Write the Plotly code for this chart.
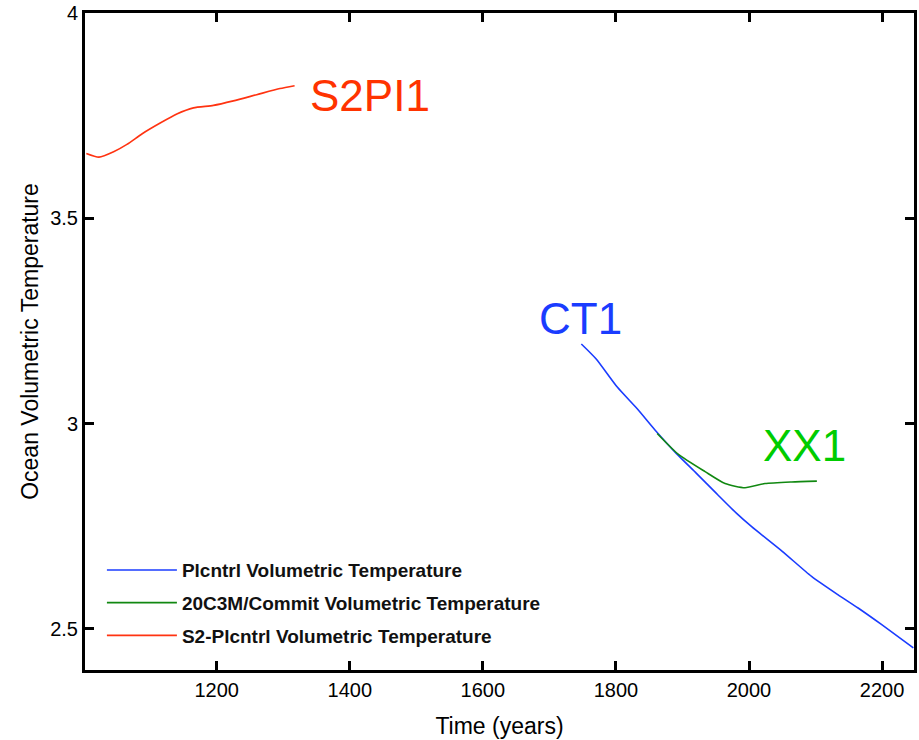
import plotly.graph_objects as go

# Pictrl (blue)
pi_years = [1748, 1770, 1802, 1832, 1859, 1891, 1921, 1951, 1981, 2004, 2050, 2094, 2134, 2164, 2199, 2247]
pi_temp = [3.194, 3.158, 3.089, 3.036, 2.984, 2.927, 2.879, 2.830, 2.782, 2.749, 2.689, 2.628, 2.583, 2.551, 2.511, 2.454]

# 20C3M/Commit (green)
cm_years = [1862, 1894, 1934, 1964, 1994, 2024, 2064, 2102]
cm_temp = [2.976, 2.925, 2.883, 2.854, 2.844, 2.854, 2.858, 2.860]

# S2-Pictrl (red)
s2_years = [1004, 1023, 1045, 1065, 1088, 1115, 1140, 1165, 1195, 1225, 1260, 1295, 1317]
s2_temp = [3.658, 3.649, 3.662, 3.680, 3.706, 3.732, 3.754, 3.769, 3.775, 3.786, 3.801, 3.816, 3.823]

series_names = ["Plcntrl Volumetric Temperature",
                "20C3M/Commit Volumetric Temperature",
                "S2-Plcntrl Volumetric Temperature"]

label_texts = ["S2PI1", "CT1", "XX1"]
label_x = [1430, 1747, 2083]
label_y = [3.80, 3.255, 2.947]

x_ticks = [1200, 1400, 1600, 1800, 2000, 2200]
y_ticks = [2.5, 3, 3.5, 4]

BLUE = "#1a3cff"
GREEN = "#118811"
RED = "#ff3311"
label_colors = ["#ff3300", "#1a3cff", "#00cc00"]

line_common = dict(width=1.6, shape="spline", smoothing=0.6)

fig = go.Figure()
fig.add_trace(go.Scatter(x=pi_years, y=pi_temp, mode="lines", name=series_names[0],
                         line=dict(color=BLUE, **line_common), legendgroup="a"))
fig.add_trace(go.Scatter(x=cm_years, y=cm_temp, mode="lines", name=series_names[1],
                         line=dict(color=GREEN, **line_common), legendgroup="b"))
fig.add_trace(go.Scatter(x=s2_years, y=s2_temp, mode="lines", name=series_names[2],
                         line=dict(color=RED, **line_common), legendgroup="c"))

for t, x, y, c in zip(label_texts, label_x, label_y, label_colors):
    fig.add_annotation(x=x, y=y, text=t, showarrow=False,
                       font=dict(family="Liberation Sans, Arial", size=44, color=c),
                       xanchor="center", yanchor="middle")

axis_common = dict(
    showline=True, linecolor="black", linewidth=3, mirror="ticks",
    ticks="inside", ticklen=9, tickwidth=3, tickcolor="black",
    showgrid=False, zeroline=False,
    tickfont=dict(family="Liberation Sans, Arial", size=20, color="black"),
)

fig.update_layout(
    width=919, height=740,
    margin=dict(l=85, r=2, t=13, b=70),
    paper_bgcolor="white", plot_bgcolor="white",
    xaxis=dict(range=[1002, 2248], tickvals=x_ticks,
               title=dict(text="Time (years)", standoff=18,
                          font=dict(family="Liberation Sans, Arial", size=23, color="black")),
               **axis_common),
    yaxis=dict(range=[2.4, 4.0], tickvals=y_ticks,
               title=dict(text="Ocean Volumetric Temperature", standoff=6,
                          font=dict(family="Liberation Sans, Arial", size=23, color="black")),
               **axis_common),
    showlegend=True,
    legend=dict(x=0.0204, y=0.181, xanchor="left", yanchor="top",
                bgcolor="rgba(0,0,0,0)", borderwidth=0,
                tracegroupgap=5, itemwidth=70,
                font=dict(family="Liberation Sans, Arial", size=19, color="#111111", weight="bold")),
)

fig.write_html("out.html", config={"displayModeBar": False},
               post_script="document.body.style.margin='0';document.body.style.overflow='hidden';")
